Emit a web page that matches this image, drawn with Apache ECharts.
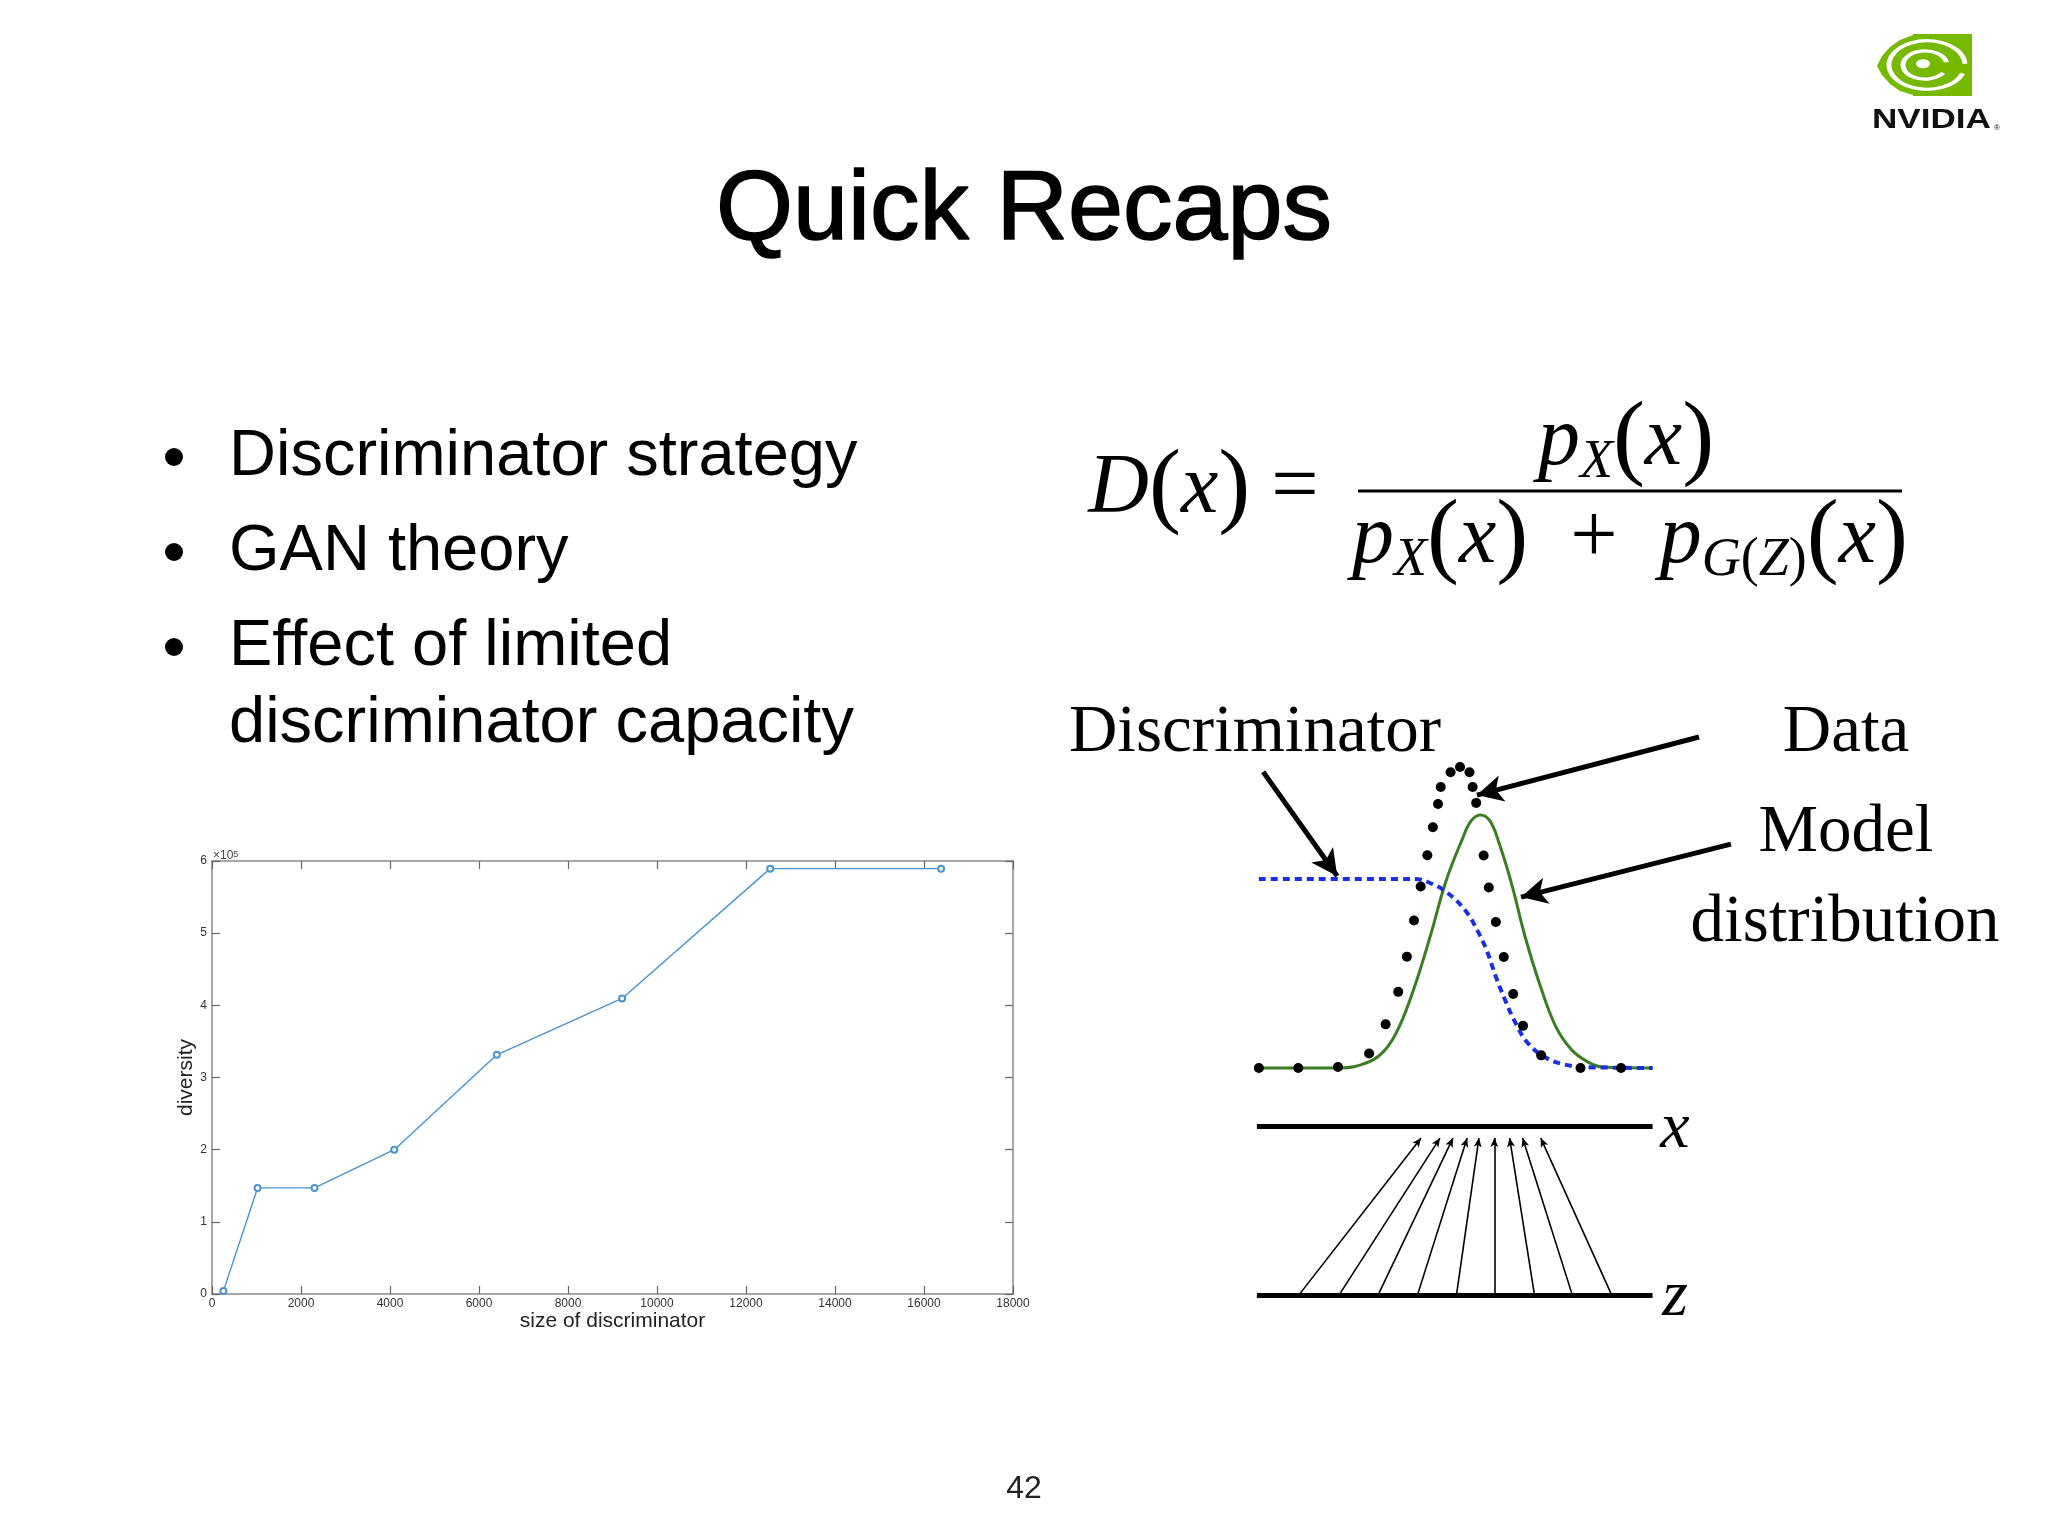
<!DOCTYPE html>
<html>
<head>
<meta charset="utf-8">
<script src="https://cdn.jsdelivr.net/npm/echarts@6/dist/echarts.min.js"></script>
<style>html,body{margin:0;padding:0;background:#fff}#c{width:2048px;height:1536px}</style>
</head>
<body>
<div id="c"></div>
<script>
// ---- chart data (size of discriminator vs diversity) ----
const sizes = [256, 1024, 2304, 4096, 6400, 9216, 12544, 16384];
const diversity = [4000, 147000, 147000, 200000, 331500, 409600, 589400, 589400];
const xTickLabels = ['0','2000','4000','6000','8000','10000','12000','14000','16000','18000'];
const yTickLabels = ['0','1','2','3','4','5','6'];

// ---- GAN illustration, values read in diagram units ----
const dataU = [0, 1.0, 2.01, 2.80, 3.22, 3.54, 3.76, 3.94, 4.11, 4.28, 4.42, 4.55, 4.62, 4.87, 5.11, 5.35, 5.43, 5.52, 5.71, 5.84, 6.02, 6.22, 6.46, 6.71, 7.17, 8.17, 9.20];
const dataV = [0, 0, 0.003, 0.048, 0.145, 0.253, 0.370, 0.490, 0.603, 0.707, 0.800, 0.877, 0.934, 0.983, 1.0, 0.983, 0.934, 0.881, 0.706, 0.600, 0.485, 0.369, 0.246, 0.140, 0.042, 0, 0];
const modelU = [0, 2.06, 2.81, 3.22, 3.57, 3.97, 4.36, 4.75, 5.16, 5.39, 5.63, 5.87, 6.11, 6.43, 6.75, 7.14, 7.54, 7.93, 8.34, 8.73, 10];
const modelV = [0, 0, 0.021, 0.062, 0.138, 0.276, 0.441, 0.620, 0.758, 0.821, 0.841, 0.821, 0.744, 0.607, 0.442, 0.276, 0.138, 0.062, 0.021, 0.003, 0];
const discU = [0, 3.97, 4.29, 4.75, 5.24, 5.56, 5.80, 6.02, 6.27, 6.51, 6.83, 7.29, 7.78, 8.26, 10];
const discV = [0.628, 0.628, 0.618, 0.586, 0.524, 0.455, 0.386, 0.303, 0.221, 0.152, 0.083, 0.034, 0.011, 0.003, 0];
const zFromU = [1.02, 2.04, 3.03, 4.03, 5.02, 5.98, 7.00, 7.96, 8.96];
const xToU = [4.12, 4.60, 4.93, 5.29, 5.59, 5.98, 6.37, 6.70, 7.16];
const zLevel = -0.754, xLevel = -0.193, tipLevel = -0.233;
const noteFrom = [[0.11, 0.984], [11.18, 1.100], [11.99, 0.744]];
const noteTo = [[1.99, 0.638], [5.54, 0.907], [6.66, 0.568]];

const chart = echarts.init(document.getElementById('c'), null, {renderer: 'canvas'});
const SANS = '"Liberation Sans", Arial, Helvetica, sans-serif';
const SERIF = '"Liberation Serif", "Times New Roman", serif';
const axisGray = '#8a8a8a';

const boxAxis = (extra) => Object.assign({
  type: 'value',
  splitLine: {show: false},
  axisLine: {show: true, onZero: false, lineStyle: {color: axisGray, width: 1.5}},
  axisTick: {show: true, inside: true, length: 8, lineStyle: {color: '#666', width: 1.2}},
}, extra);

const mathRich = {
  v: {fontFamily: SERIF, fontStyle: 'italic', fontSize: 84, fill: '#000'},
  p: {fontFamily: SERIF, fontSize: 96, fill: '#000'},
  n: {fontFamily: SERIF, fontSize: 84, fill: '#000'},
  s: {fontFamily: SERIF, fontStyle: 'italic', fontSize: 54, fill: '#000', verticalAlign: 'bottom'},
  sp: {fontFamily: SERIF, fontSize: 54, fill: '#000', verticalAlign: 'bottom'}
};

const option = {
  animation: false,
  backgroundColor: '#ffffff',
  grid: [
    {left: 212, top: 861, width: 801, height: 433, containLabel: false},
    {left: 1042.3, top: 676.8, width: 1004, height: 662, containLabel: false}
  ],
  xAxis: [
    boxAxis({gridIndex: 0, position: 'bottom', min: 0, max: 18000, interval: 2000,
      axisLabel: {show: true, fontFamily: SANS, fontSize: 12, color: '#333', margin: 4,
        formatter: (v) => xTickLabels[Math.round(v / 2000)]},
      name: 'size of discriminator', nameLocation: 'middle', nameGap: 15,
      nameTextStyle: {fontFamily: SANS, fontSize: 21, color: '#222'}}),
    boxAxis({gridIndex: 0, position: 'top', min: 0, max: 18000, interval: 2000, axisLabel: {show: false}}),
    {gridIndex: 1, type: 'value', min: -5.5, max: 20, show: false}
  ],
  yAxis: [
    boxAxis({gridIndex: 0, position: 'left', min: 0, max: 600000, interval: 100000,
      axisLabel: {show: true, fontFamily: SANS, fontSize: 12, color: '#333', margin: 5,
        formatter: (v) => yTickLabels[Math.round(v / 100000)]},
      name: 'diversity', nameLocation: 'middle', nameGap: 12, nameRotate: 90,
      nameTextStyle: {fontFamily: SANS, fontSize: 21, color: '#222'}}),
    boxAxis({gridIndex: 0, position: 'right', min: 0, max: 600000, interval: 100000, axisLabel: {show: false}}),
    {gridIndex: 1, type: 'value', min: -0.9, max: 1.3, show: false}
  ],
  series: [
    {
      type: 'line', xAxisIndex: 0, yAxisIndex: 0,
      data: sizes.map((s, i) => [s, diversity[i]]),
      symbol: 'emptyCircle', symbolSize: 6,
      lineStyle: {color: '#4a93cc', width: 1.4},
      itemStyle: {color: '#4a93cc', borderWidth: 1.2},
      z: 5
    },
    {
      type: 'line', xAxisIndex: 2, yAxisIndex: 2, clip: false,
      data: modelU.map((u, i) => [u, modelV[i]]), smooth: 0.4, symbol: 'none',
      lineStyle: {color: '#3b7d22', width: 3}, z: 3
    },
    {
      type: 'line', xAxisIndex: 2, yAxisIndex: 2, clip: false,
      data: discU.map((u, i) => [u, discV[i]]), smooth: 0.4, symbol: 'none',
      lineStyle: {color: '#1a2ee6', width: 4, type: [7, 5]}, z: 4
    },
    {
      type: 'scatter', xAxisIndex: 2, yAxisIndex: 2, clip: false,
      data: dataU.map((u, i) => [u, dataV[i]]), symbolSize: 10,
      itemStyle: {color: '#000', opacity: 1}, z: 6
    },
    {
      type: 'line', xAxisIndex: 2, yAxisIndex: 2, clip: false, data: [], symbol: 'none',
      markLine: {
        silent: true, animation: false, precision: 4,
        label: {show: false},
        symbol: ['none', 'none'],
        lineStyle: {type: 'solid', color: '#000', width: 5},
        data: [
          [{coord: [-0.05, xLevel]}, {coord: [10.0, xLevel]}],
          [{coord: [-0.05, zLevel]}, {coord: [10.0, zLevel]}]
        ]
      }
    },
    {
      type: 'line', xAxisIndex: 2, yAxisIndex: 2, clip: false, data: [], symbol: 'none',
      markLine: {
        silent: true, animation: false, precision: 4,
        label: {show: false},
        symbol: ['none', 'arrow'], symbolSize: [6, 9],
        lineStyle: {type: 'solid', color: '#000', width: 1.6},
        data: zFromU.map((u, i) => [{coord: [u, zLevel]}, {coord: [xToU[i], tipLevel]}])
      }
    },
    {
      type: 'line', xAxisIndex: 2, yAxisIndex: 2, clip: false, data: [], symbol: 'none',
      markLine: {
        silent: true, animation: false, precision: 4,
        label: {show: false},
        symbol: ['none', 'arrow'], symbolSize: [20, 26],
        lineStyle: {type: 'solid', color: '#000', width: 5},
        data: noteFrom.map((f, i) => [{coord: f}, {coord: noteTo[i]}])
      }
    }
  ],
  graphic: {elements: [
    {type: 'text', x: 1024, y: 212, style: {text: 'Quick Recaps', font: 'normal 99px ' + SANS, fill: '#000',
      stroke: '#000', lineWidth: 1.6, align: 'center', verticalAlign: 'middle'}},
    {type: 'circle', shape: {cx: 174, cy: 457, r: 9}, style: {fill: '#000'}},
    {type: 'circle', shape: {cx: 174, cy: 552, r: 9}, style: {fill: '#000'}},
    {type: 'circle', shape: {cx: 174, cy: 647, r: 9}, style: {fill: '#000'}},
    {type: 'text', x: 229, y: 457, style: {text: 'Discriminator strategy', font: 'normal 65px ' + SANS, fill: '#000', align: 'left', verticalAlign: 'middle'}},
    {type: 'text', x: 229, y: 552, style: {text: 'GAN theory', font: 'normal 65px ' + SANS, fill: '#000', align: 'left', verticalAlign: 'middle'}},
    {type: 'text', x: 229, y: 647, style: {text: 'Effect of limited', font: 'normal 65px ' + SANS, fill: '#000', align: 'left', verticalAlign: 'middle'}},
    {type: 'text', x: 229, y: 724, style: {text: 'discriminator capacity', font: 'normal 65px ' + SANS, fill: '#000', align: 'left', verticalAlign: 'middle'}},
    {type: 'text', x: 213, y: 856, style: {text: '{a|×10}{b|5}', align: 'left', verticalAlign: 'middle',
      rich: {a: {fontFamily: SANS, fontSize: 12, fill: '#444'}, b: {fontFamily: SANS, fontSize: 9, fill: '#444', verticalAlign: 'top'}}}},
    {type: 'text', x: 1214, y: 490, style: {text: '{v|D}{p|(}{v|x}{p|)}{n| = }', align: 'center', verticalAlign: 'middle', rich: mathRich}},
    {type: 'text', x: 1626, y: 442, style: {text: '{v|p}{s|X}{p|(}{v|x}{p|)}', align: 'center', verticalAlign: 'middle', rich: mathRich}},
    {type: 'text', x: 1630, y: 540, style: {text: '{v|p}{s|X}{p|(}{v|x}{p|)}{n|  +  }{v|p}{s|G}{sp|(}{s|Z}{sp|)}{p|(}{v|x}{p|)}', align: 'center', verticalAlign: 'middle', rich: mathRich}},
    {type: 'line', shape: {x1: 1358, y1: 491, x2: 1902, y2: 491}, style: {stroke: '#000', lineWidth: 3}},
    {type: 'text', x: 1255, y: 733, style: {text: 'Discriminator', font: 'normal 67px ' + SERIF, fill: '#000', align: 'center', verticalAlign: 'middle'}},
    {type: 'text', x: 1846, y: 733, style: {text: 'Data', font: 'normal 67px ' + SERIF, fill: '#000', align: 'center', verticalAlign: 'middle'}},
    {type: 'text', x: 1846, y: 833, style: {text: 'Model', font: 'normal 67px ' + SERIF, fill: '#000', align: 'center', verticalAlign: 'middle'}},
    {type: 'text', x: 1845, y: 923, style: {text: 'distribution', font: 'normal 67px ' + SERIF, fill: '#000', align: 'center', verticalAlign: 'middle'}},
    {type: 'text', x: 1675, y: 1130, style: {text: 'x', font: 'italic 66px ' + SERIF, fill: '#000', align: 'center', verticalAlign: 'middle'}},
    {type: 'text', x: 1675, y: 1298, style: {text: 'z', font: 'italic 66px ' + SERIF, fill: '#000', align: 'center', verticalAlign: 'middle'}},
    {type: 'text', x: 1024, y: 1489, style: {text: '42', font: 'normal 32px ' + SANS, fill: '#222', align: 'center', verticalAlign: 'middle'}},
    // NVIDIA logo
    {type: 'rect', shape: {x: 1913, y: 34, width: 59, height: 62}, style: {fill: '#76b900'}},
    {type: 'polygon', shape: {points: [[1877,66],[1882,56],[1890,47],[1900,40],[1913,35],[1913,95],[1900,91],[1890,84],[1882,75]]}, style: {fill: '#76b900'}},
    {type: 'group', x: 1927, y: 65, scaleY: 0.64, children: [
      {type: 'arc', shape: {cx: 0, cy: 0, r: 38, startAngle: 0.35, endAngle: Math.PI * 2 - 0.05, clockwise: true}, style: {fill: 'none', stroke: '#ffffff', lineWidth: 5}},
      {type: 'arc', shape: {cx: -2, cy: 0, r: 22, startAngle: 0.6, endAngle: Math.PI * 2 - 0.2, clockwise: true}, style: {fill: 'none', stroke: '#ffffff', lineWidth: 5}},
      {type: 'circle', shape: {cx: -4, cy: -2, r: 7}, style: {fill: '#ffffff'}}
    ]},
    {type: 'text', x: 1872, y: 121, scaleX: 1.3, style: {text: 'NVIDIA', font: 'bold 27px ' + SANS, fill: '#111', align: 'left', verticalAlign: 'middle'}},
    {type: 'text', x: 1994, y: 128, style: {text: '®', font: 'normal 8px ' + SANS, fill: '#111', align: 'left', verticalAlign: 'middle'}}
  ]}
};
chart.setOption(option);
</script>
</body>
</html>
